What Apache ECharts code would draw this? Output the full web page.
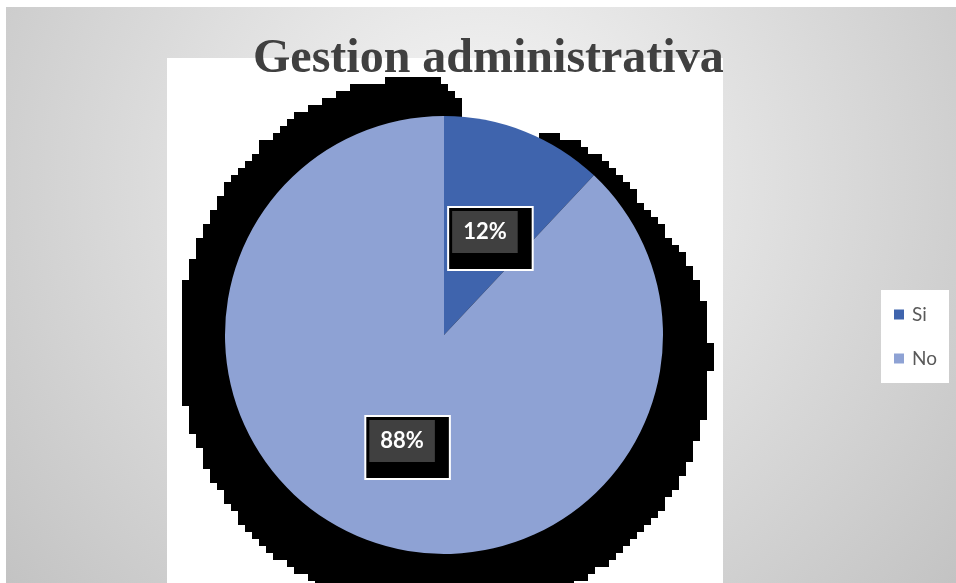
<!DOCTYPE html>
<html>
<head>
<meta charset="utf-8">
<script src="https://cdn.jsdelivr.net/npm/echarts@6/dist/echarts.min.js"></script>
<style>
html,body{margin:0;padding:0;background:#fff;}
#c{width:956px;height:583px;}
</style>
</head>
<body>
<div id="c"></div>
<script>
const titleText = 'Gestion administrativa';
const categories = ['Si', 'No'];
const values = [12, 88];
const sliceColors = ['#3F64AD', '#8EA2D4'];

// decorative shadow profile (screen angle in degrees -> radius)
const shadowProfile = [
  [-270, 282], [-225, 277], [-210, 272], [-180, 265], [-150, 265], [-113, 266], [-100, 262],
  [-92, 258], [-88, 245], [-86, 232], [-84, 205], [-66, 205], [-64, 224], [-58, 234], [-46, 236],
  [-30, 238], [-22, 247], [-14, 258], [0, 265], [30, 276], [45, 279], [90, 282]
];

function shadowPoints(cx, cy, grid) {
  const prof = shadowProfile;
  function rAt(a) {
    for (let i = 0; i < prof.length - 1; i++) {
      if (a >= prof[i][0] && a <= prof[i + 1][0]) {
        const t = (a - prof[i][0]) / (prof[i + 1][0] - prof[i][0]);
        return prof[i][1] + t * (prof[i + 1][1] - prof[i][1]);
      }
    }
    return 265;
  }
  const raw = [];
  for (let a = -270; a <= 90; a += 0.25) {
    const r = rAt(a);
    const rad = a * Math.PI / 180;
    const x = Math.round((cx + r * Math.cos(rad)) / grid) * grid;
    const y = Math.round((cy + r * Math.sin(rad)) / grid) * grid;
    const last = raw[raw.length - 1];
    if (!last || last[0] !== x || last[1] !== y) raw.push([x, y]);
  }
  const pts = [];
  for (let i = 0; i < raw.length; i++) {
    if (i > 0) pts.push([raw[i][0], raw[i - 1][1]]);
    pts.push(raw[i]);
  }
  return pts;
}

const chart = echarts.init(document.getElementById('c'));
const pieCenter = [444, 335];
const pieRadius = 219;

chart.setOption({
  animation: false,
  title: {
    text: titleText,
    left: 248,
    top: 31,
    textStyle: {
      fontFamily: 'Liberation Serif',
      fontWeight: 'bold',
      fontSize: 48,
      color: '#404040'
    },
    z: 10
  },
  legend: {
    data: categories,
    orient: 'vertical',
    left: 881,
    top: 290,
    backgroundColor: '#ffffff',
    padding: [15, 12, 15, 13],
    itemWidth: 10,
    itemHeight: 10,
    itemGap: 25,
    icon: 'rect',
    textStyle: {
      fontFamily: 'Lato',
      fontSize: 19,
      color: '#595959',
      padding: [0, 0, 0, 3]
    }
  },
  graphic: {
    elements: [
      {
        type: 'rect',
        z: -10,
        silent: true,
        shape: { x: 6, y: 7, width: 950, height: 576 },
        style: {
          fill: {
            type: 'radial', x: 0.5, y: 0.3, r: 1.1,
            colorStops: [
              { offset: 0, color: '#f8f8f8' },
              { offset: 1, color: '#c2c2c2' }
            ]
          }
        }
      },
      {
        type: 'rect',
        z: -9,
        silent: true,
        shape: { x: 167, y: 58, width: 556, height: 530 },
        style: { fill: '#ffffff' }
      },
      {
        type: 'polygon',
        z: -8,
        silent: true,
        shape: { points: shadowPoints(445, 336, 7) },
        style: { fill: '#000000' }
      }
    ]
  },
  series: [
    {
      type: 'pie',
      center: pieCenter,
      radius: [0, pieRadius],
      startAngle: 90,
      clockwise: true,
      avoidLabelOverlap: false,
      color: sliceColors,
      label: {
        show: true,
        position: 'inside',
        offset: [5, 8],
        formatter: function (p) { return '{a|' + Math.round(p.percent) + '%}'; },
        backgroundColor: '#000000',
        borderColor: '#ffffff',
        borderWidth: 2,
        borderRadius: 0,
        padding: [3, 14, 16, 3],
        rich: {
          a: {
            fontFamily: 'Lato',
            fontWeight: 'bold',
            fontSize: 22,
            color: '#ffffff',
            backgroundColor: '#404040',
            padding: [10, 11, 10, 11]
          }
        }
      },
      labelLine: { show: false },
      emphasis: { disabled: true },
      data: categories.map((c, i) => ({ name: c, value: values[i] }))
    }
  ]
});
</script>
</body>
</html>
